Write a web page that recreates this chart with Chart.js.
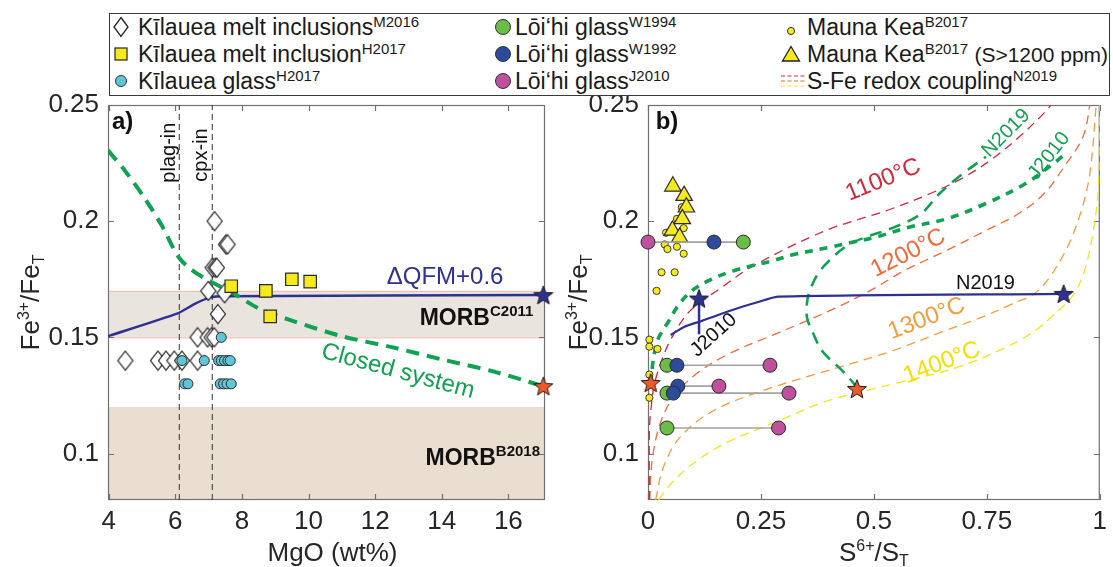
<!DOCTYPE html>
<html>
<head>
<meta charset="utf-8">
<title>Fe3+/FeT vs MgO and S6+/ST</title>
<script src="https://cdn.jsdelivr.net/npm/chart.js@4.4.1/dist/chart.umd.min.js"></script>
<style>
  html, body { margin:0; padding:0; background:#fff; }
  #wrap { position:relative; width:1113px; height:567px; overflow:hidden; font-family:"Liberation Sans", Arial, Helvetica, sans-serif; color:#1a1a1a; }
  canvas { position:absolute; top:0; }
  #ca { left:0; }
  #cb { left:556px; }
  #legend { position:absolute; left:109px; top:13px; width:1001px; height:83px; box-sizing:border-box; border:1.5px solid #3a3a3a; background:#fff; }
  .it { position:absolute; height:28px; line-height:28px; white-space:nowrap; font-size:23px; }
  .mk { position:absolute; }
  .sp { font-size:15px; position:relative; top:-8px; }
  .sm { font-size:21px; }
</style>
</head>
<body>
<div id="wrap">
  <canvas id="ca" width="556" height="567"></canvas>
  <canvas id="cb" width="557" height="567"></canvas>
  <div id="legend"></div>
</div>
<script>
const FONT = '"Liberation Sans", Arial, Helvetica, sans-serif';

// ---------------- tick labels ----------------
const aXTicks = [4, 6, 8, 10, 12, 14, 16];
const bXTicks = [0, 0.25, 0.5, 0.75, 1];
const yTicks  = [0.1, 0.15, 0.2, 0.25];

// ---------------- panel a : [MgO wt%, Fe3+/FeT] ----------------
const kilMeltIncM2016 = [
  [7.18,0.200],[7.52,0.190],[7.57,0.190],[7.12,0.180],[7.20,0.180],[7.25,0.180],
  [6.99,0.170],[7.48,0.169],[7.28,0.160],
  [6.67,0.150],[6.97,0.150],[7.09,0.150],[7.17,0.150],
  [4.50,0.140],[5.48,0.140],[5.72,0.140],[5.97,0.140],[6.20,0.140],[6.67,0.140]
];
const kilMeltIncH2017 = [[7.68,0.172],[8.72,0.170],[8.85,0.159],[9.50,0.175],[10.05,0.174]];
const kilGlassH2017 = [
  [7.38,0.150],
  [6.20,0.140],[6.87,0.140],[7.30,0.140],[7.38,0.140],[7.48,0.140],[7.58,0.140],[7.65,0.140],
  [6.28,0.130],[6.38,0.130],[7.35,0.130],[7.45,0.130],[7.55,0.130],[7.68,0.130]
];
const qfmLine = [[3.98,0.1505],[6.05,0.1602],[6.6,0.1645],[7.05,0.1672],[7.5,0.1677],[17.05,0.1682]];
const closedSystem = [[3.98,0.2305],[4.5,0.2215],[5.1,0.2095],[5.6,0.198],[6.1,0.1845],[6.5,0.179],
  [7.0,0.1745],[7.8,0.1685],[8.5,0.1625],[9.5,0.1572],[11,0.1505],[12.5,0.1458],[14,0.1405],[15.5,0.1355],[17.05,0.129]];
const mineralIn = [6.12, 7.11];          // plag-in, cpx-in (MgO)
const morbC2011 = [0.15, 0.17];
const morbB2018 = [0.08, 0.12];
const starAblue = [[17.05, 0.1682]];
const starAred  = [[17.05, 0.129]];

// ---------------- panel b : [S6+/ST, Fe3+/FeT] ----------------
const loihiRowsY = [0.191, 0.138, 0.129, 0.126, 0.111];
const loihiW1994 = [0.211, 0.042, null, 0.042, 0.042];
const loihiW1992 = [0.146, 0.064, 0.066, 0.056, null];
const loihiJ2010 = [0.000, 0.270, 0.157, 0.312, 0.289];
const maunaKea = [[0.075,0.206],[0.064,0.201],[0.079,0.197],[0.040,0.195],[0.037,0.190],[0.043,0.188],
  [0.064,0.189],[0.079,0.186],[0.030,0.178],[0.059,0.178],[0.019,0.170],[0.003,0.149],[0.003,0.146],
  [0.021,0.145],[0.003,0.134],[0.003,0.124]];
const maunaKeaHighS = [[0.055,0.215],[0.080,0.211],[0.085,0.206],[0.076,0.201],[0.054,0.196],[0.070,0.193]];
const t1100 = [[0.003,0.08],[0.003,0.1095],[0.006,0.118],[0.014,0.1297],[0.032,0.141],[0.053,0.150],[0.093,0.1614],
  [0.163,0.1715],[0.235,0.181],[0.394,0.196],[0.53,0.2047],[0.625,0.2119],[0.70,0.219],[0.76,0.2265],[0.82,0.236],[0.877,0.2466],[0.90,0.252]];
const t1200 = [[0.004,0.08],[0.006,0.09],[0.011,0.0995],[0.026,0.1124],[0.055,0.124],[0.105,0.134],[0.177,0.1427],
  [0.264,0.150],[0.35,0.157],[0.43,0.164],[0.50,0.171],[0.567,0.1787],[0.661,0.1874],[0.748,0.196],[0.82,0.2032],
  [0.877,0.2119],[0.921,0.2234],[0.963,0.2364],[0.98,0.252]];
const t1300 = [[0.017,0.08],[0.019,0.082],[0.033,0.0936],[0.069,0.1066],[0.141,0.118],[0.25,0.1268],[0.394,0.1355],
  [0.538,0.144],[0.646,0.152],[0.73,0.158],[0.805,0.1643],[0.863,0.170],[0.921,0.186],[0.957,0.2032],[0.978,0.2205],[0.993,0.252]];
const t1400 = [[0.024,0.08],[0.026,0.0807],[0.055,0.0879],[0.105,0.0965],[0.177,0.105],[0.286,0.1138],[0.394,0.1225],
  [0.538,0.1297],[0.683,0.137],[0.79,0.1455],[0.85,0.152],[0.90,0.160],[0.94,0.168],[0.965,0.178],[0.985,0.195],[0.997,0.215],[1.0,0.252]];
const j2010Path = [[0.006,0.130],[0.010,0.138],[0.015,0.144],[0.024,0.150],[0.046,0.157],[0.068,0.164],[0.097,0.170],
  [0.14,0.175],[0.19,0.1787],[0.234,0.181],[0.277,0.183],[0.32,0.1855],[0.408,0.189],[0.466,0.1915],[0.502,0.193],
  [0.58,0.1975],[0.661,0.201],[0.748,0.2076],[0.834,0.216],[0.899,0.225],[0.928,0.2297]];
const n2019Path = [[0.4625,0.128],[0.452,0.131],[0.423,0.137],[0.386,0.144],[0.365,0.152],[0.352,0.1585],[0.352,0.165],
  [0.358,0.170],[0.375,0.177],[0.394,0.1816],[0.437,0.189],[0.48,0.193],[0.54,0.197],[0.603,0.203],[0.646,0.212],
  [0.697,0.2205],[0.748,0.2277]];
const n2019Blue = [[0.05,0.151],[0.08,0.1545],[0.118,0.157],[0.19,0.162],[0.24,0.165],[0.29,0.1675],[0.92,0.1687]];
const j2010Blue = [[0.113,0.1513],[0.113,0.1667]];
const starBblue = [[0.113,0.1667],[0.92,0.1687]];
const starBred  = [[0.006,0.1304],[0.4625,0.1278]];

// ---------------- colours ----------------
const C = {
  navy:'#2e3192', green:'#10a152', red:'#f05a28',
  c1100:'#d2283c', c1200:'#f2693a', c1300:'#f89c3a', c1400:'#f7e41c',
  yellow:'#f5ea1c', cyan:'#5fc6d8', lgreen:'#6cbd45', lblue:'#2e4a9b', magenta:'#c0509e'
};

const xy = a => a.map(p => ({x:p[0], y:p[1]}));
const rowPts = arr => arr.map((v,i) => v == null ? null : {x:v, y:loihiRowsY[i]}).filter(Boolean);

function starImg(fill, r) {
  const s = Math.ceil(2*r + 4), c = document.createElement('canvas');
  c.width = s; c.height = s;
  const g = c.getContext('2d'), cx = s/2, cy = s/2 + r*0.08, ri = r*0.42;
  g.beginPath();
  for (let i = 0; i < 10; i++) {
    const rr = i % 2 ? ri : r, a = -Math.PI/2 + i*Math.PI/5;
    g.lineTo(cx + rr*Math.cos(a), cy + rr*Math.sin(a));
  }
  g.closePath(); g.fillStyle = fill; g.fill();
  g.strokeStyle = '#1a1a1a'; g.lineWidth = 1; g.stroke();
  return c;
}
function diamondImg() {
  const c = document.createElement('canvas'); c.width = 18; c.height = 22;
  const g = c.getContext('2d');
  g.beginPath(); g.moveTo(9,1.5); g.lineTo(16.5,11); g.lineTo(9,20.5); g.lineTo(1.5,11); g.closePath();
  g.fillStyle = '#fff'; g.fill(); g.strokeStyle = '#1a1a1a'; g.lineWidth = 1.2; g.stroke();
  return c;
}

function mk(data, o) {
  return Object.assign({data: xy(data), showLine:false, clip:false, borderColor:'#2a2a2a', borderWidth:1}, o);
}
function ln(data, color, width, dash, o) {
  return Object.assign({data: Array.isArray(data[0]) ? xy(data) : data, showLine:true, pointRadius:0, pointHoverRadius:0,
    borderColor:color, borderWidth:width, borderDash:dash || [], tension:0, fill:false}, o || {});
}

// rich text: parts [{t, s, b, dy}]
function drawRich(ctx, parts, x, y, align, color, angleDeg) {
  ctx.save();
  ctx.translate(x, y);
  ctx.rotate((angleDeg || 0) * Math.PI / 180);
  ctx.textAlign = 'left'; ctx.textBaseline = 'alphabetic';
  let w = 0;
  parts.forEach(p => { ctx.font = (p.b ? 'bold ' : '') + p.s + 'px ' + FONT; w += ctx.measureText(p.t).width; });
  let cx = align === 'center' ? -w/2 : (align === 'right' ? -w : 0);
  const base = parts[0].s * 0.36;
  parts.forEach(p => {
    ctx.font = (p.b ? 'bold ' : '') + p.s + 'px ' + FONT;
    ctx.fillStyle = p.c || color;
    ctx.fillText(p.t, cx, base + (p.dy || 0));
    cx += ctx.measureText(p.t).width;
  });
  ctx.restore();
}

function panelPlugin(cfg) {
  return {
    id: 'panel',
    beforeDatasetsDraw(chart) {
      const {ctx, chartArea: ca} = chart, xs = chart.scales.x, ys = chart.scales.y;
      ctx.save();
      (cfg.bands || []).forEach(b => {
        const yt = ys.getPixelForValue(b.range[1]), yb = ys.getPixelForValue(b.range[0]);
        ctx.fillStyle = b.fill;
        ctx.fillRect(ca.left, yt, ca.right - ca.left, yb - yt);
        ctx.strokeStyle = b.edge; ctx.lineWidth = 1;
        ctx.beginPath(); ctx.moveTo(ca.left, yt + 0.5); ctx.lineTo(ca.right, yt + 0.5);
        if (b.range[0] > ys.min) { ctx.moveTo(ca.left, yb + 0.5); ctx.lineTo(ca.right, yb + 0.5); }
        ctx.stroke();
      });
      ctx.strokeStyle = '#707070'; ctx.lineWidth = 1.2;
      ctx.strokeRect(ca.left + 0.5, ca.top + 0.5, ca.right - ca.left - 1, ca.bottom - ca.top - 1);
      const tl = 6;
      ctx.beginPath();
      xs.ticks.forEach(t => {
        const p = Math.round(xs.getPixelForValue(t.value)) + 0.5;
        ctx.moveTo(p, ca.bottom); ctx.lineTo(p, ca.bottom - tl);
        ctx.moveTo(p, ca.top); ctx.lineTo(p, ca.top + tl);
      });
      ys.ticks.forEach(t => {
        const p = Math.round(ys.getPixelForValue(t.value)) + 0.5;
        ctx.moveTo(ca.left, p); ctx.lineTo(ca.left + tl, p);
        ctx.moveTo(ca.right, p); ctx.lineTo(ca.right - tl, p);
      });
      ctx.stroke();
      ctx.restore();
    },
    afterDatasetsDraw(chart) {
      const {ctx, chartArea: ca} = chart, xs = chart.scales.x, ys = chart.scales.y;
      (cfg.notes || []).forEach(n => {
        drawRich(ctx, n.parts, xs.getPixelForValue(n.at[0]), ys.getPixelForValue(n.at[1]), n.align || 'center', n.color || '#111', n.rot || 0);
      });
      // axis titles
      drawRich(ctx, cfg.xTitle, (ca.left + ca.right)/2 + (cfg.xTitleDx || 0), 552, 'center', '#262626', 0);
      drawRich(ctx, cfg.yTitle, cfg.yTitleX, (ca.top + ca.bottom)/2, 'center', '#262626', -90);
    }
  };
}

const yTitleParts = [{t:'Fe', s:26}, {t:'3+', s:16, dy:-10}, {t:'/Fe', s:26}, {t:'T', s:16, dy:5}];

function baseOptions(xmin, xmax, xt, yw, padRight) {
  const tickFont = {family: FONT, size: 26};
  const fmt = v => String(+(+v).toFixed(2));
  return {
    responsive:false, animation:false, devicePixelRatio:1, events:[],
    layout:{padding:{top:105, right:padRight, left:0, bottom:0}},
    plugins:{legend:{display:false}, tooltip:{enabled:false}},
    scales:{
      x:{type:'linear', min:xmin, max:xmax,
         grid:{display:false, drawTicks:false}, border:{display:false},
         afterBuildTicks: s => { s.ticks = xt.map(v => ({value:v})); },
         afterFit: s => { s.height = 67; },
         ticks:{padding:6, color:'#262626', font:tickFont, autoSkip:false, maxRotation:0, callback: fmt}},
      y:{type:'linear', min:0.08, max:0.25,
         grid:{display:false, drawTicks:false}, border:{display:false},
         afterBuildTicks: s => { s.ticks = yTicks.map(v => ({value:v})); },
         afterFit: s => { s.width = yw; },
         ticks:{padding:9, color:'#262626', font:tickFont, autoSkip:false, callback: fmt}}
    }
  };
}

// ---------------- panel a ----------------
const diamond = diamondImg();
const chartA = new Chart(document.getElementById('ca'), {
  type:'scatter',
  data:{datasets:[
    mk(starAblue, {pointStyle: starImg(C.navy, 10), pointRadius:10}),
    mk(starAred,  {pointStyle: starImg(C.red, 10), pointRadius:10}),
    mk(kilMeltIncH2017, {pointStyle:'rect', pointRadius:8.8, backgroundColor:C.yellow, borderWidth:1.2}),
    mk(kilGlassH2017, {pointStyle:'circle', pointRadius:5, backgroundColor:C.cyan, borderWidth:1}),
    mk(kilMeltIncM2016, {pointStyle: diamond, pointRadius:9}),
    ln(closedSystem, C.green, 4, [13,8], {tension:0.3}),
    ln(qfmLine, C.navy, 2.5, [], {tension:0.2}),
    ln([{x:mineralIn[0], y:0.08},{x:mineralIn[0], y:0.25}], '#333', 1, [6,4]),
    ln([{x:mineralIn[1], y:0.08},{x:mineralIn[1], y:0.25}], '#333', 1, [6,4])
  ]},
  options: baseOptions(3.98, 17.1, aXTicks, 108, 7),
  plugins:[panelPlugin({
    bands:[{range:morbB2018, fill:'#eaded1', edge:'#d6e8d4'}, {range:morbC2011, fill:'#e9e5de', edge:'#f3b9a6'}],
    notes:[
      {parts:[{t:'a)', s:24, b:true}], at:[4.1, 0.2435], align:'left'},
      {parts:[{t:'plag-in', s:20}], at:[5.78, 0.2295], rot:-90},
      {parts:[{t:'cpx-in', s:20}], at:[6.74, 0.2285], rot:-90},
      {parts:[{t:'\u0394QFM+0.6', s:24}], at:[14.1, 0.1765], color:C.navy},
      {parts:[{t:'MORB', s:23, b:true}, {t:'C2011', s:15, b:true, dy:-9}], at:[16.75, 0.1588], align:'right'},
      {parts:[{t:'MORB', s:23, b:true}, {t:'B2018', s:15, b:true, dy:-9}], at:[16.95, 0.0985], align:'right'},
      {parts:[{t:'Closed system', s:24}], at:[12.7, 0.1362], color:C.green, rot:15}
    ],
    xTitle:[{t:'MgO (wt%)', s:26}], xTitleDx:6,
    yTitle:yTitleParts, yTitleX:30
  })]
});

// ---------------- panel b ----------------
const linkSets = loihiRowsY.map((y, i) => {
  const xsRow = [loihiW1994[i], loihiW1992[i], loihiJ2010[i]].filter(v => v != null);
  return ln([{x:Math.min(...xsRow), y}, {x:Math.max(...xsRow), y}], '#a3a3a3', 1.6, [], {clip:false});
});
const chartB = new Chart(document.getElementById('cb'), {
  type:'scatter',
  data:{datasets:[
    mk(starBblue, {pointStyle: starImg(C.navy, 10), pointRadius:10}),
    mk(starBred,  {pointStyle: starImg(C.red, 10), pointRadius:10}),
    {data: rowPts(loihiW1992), showLine:false, clip:false, pointStyle:'circle', pointRadius:7, backgroundColor:C.lblue, borderColor:'#2a2a2a', borderWidth:1},
    {data: rowPts(loihiW1994), showLine:false, clip:false, pointStyle:'circle', pointRadius:7, backgroundColor:C.lgreen, borderColor:'#2a2a2a', borderWidth:1},
    {data: rowPts(loihiJ2010), showLine:false, clip:false, pointStyle:'circle', pointRadius:7, backgroundColor:C.magenta, borderColor:'#2a2a2a', borderWidth:1},
    ...linkSets,
    mk(maunaKeaHighS, {pointStyle:'triangle', pointRadius:9.5, backgroundColor:C.yellow, borderWidth:1.2}),
    mk(maunaKea, {pointStyle:'circle', pointRadius:3.6, backgroundColor:C.yellow, borderWidth:0.9}),
    ln(j2010Blue, C.navy, 2.5),
    ln(n2019Blue, C.navy, 2.2, [], {tension:0.25}),
    ln(j2010Path, C.green, 3.6, [8,7], {tension:0.35}),
    ln(n2019Path, C.green, 2.6, [12,8], {tension:0.35}),
    ln(t1100, C.c1100, 1.3, [9,6], {tension:0.35}),
    ln(t1200, C.c1200, 1.3, [9,6], {tension:0.35}),
    ln(t1300, C.c1300, 1.3, [9,6], {tension:0.35}),
    ln(t1400, C.c1400, 1.3, [9,6], {tension:0.35})
  ]},
  options: baseOptions(0, 1, bXTicks, 92, 3),
  plugins:[panelPlugin({
    notes:[
      {parts:[{t:'b)', s:24, b:true}], at:[0.017, 0.2435], align:'left'},
      {parts:[{t:'1100\u00B0C', s:24}], at:[0.519, 0.2185], color:C.c1100, rot:-22},
      {parts:[{t:'1200\u00B0C', s:24}], at:[0.574, 0.187], color:C.c1200, rot:-27},
      {parts:[{t:'1300\u00B0C', s:24}], at:[0.615, 0.1588], color:C.c1300, rot:-21},
      {parts:[{t:'1400\u00B0C', s:24}], at:[0.649, 0.1398], color:'#f2e000', rot:-21},
      {parts:[{t:'N2019', s:20}], at:[0.79, 0.2384], color:C.green, rot:-45},
      {parts:[{t:'J2010', s:20}], at:[0.885, 0.2285], color:C.green, rot:-52},
      {parts:[{t:'N2019', s:20}], at:[0.747, 0.174], color:'#111'},
      {parts:[{t:'J2010', s:20}], at:[0.143, 0.1515], color:'#111', rot:-42}
    ],
    xTitle:[{t:'S', s:26}, {t:'6+', s:16, dy:-10}, {t:'/S', s:26}, {t:'T', s:16, dy:5}],
    yTitle:yTitleParts, yTitleX:22
  })]
});

// ---------------- legend (HTML) ----------------
const legendEntries = [
  {col:0, row:0, mark:'<svg width="18" height="22"><polygon points="9,1.5 16,11 9,20.5 2,11" fill="#fff" stroke="#222" stroke-width="1.3"/></svg>', w:18, h:22,
   html:'K\u012Blauea melt inclusions<span class="sp">M2016</span>'},
  {col:0, row:1, mark:'<svg width="16" height="16"><rect x="2" y="2" width="12" height="12" fill="'+C.yellow+'" stroke="#333" stroke-width="1.3"/></svg>', w:16, h:16,
   html:'K\u012Blauea melt inclusion<span class="sp">H2017</span>'},
  {col:0, row:2, mark:'<svg width="14" height="14"><circle cx="7" cy="7" r="5.5" fill="'+C.cyan+'" stroke="#333" stroke-width="1"/></svg>', w:14, h:14,
   html:'K\u012Blauea glass<span class="sp">H2017</span>'},
  {col:1, row:0, mark:'<svg width="18" height="18"><circle cx="9" cy="9" r="7.5" fill="'+C.lgreen+'" stroke="#333" stroke-width="1"/></svg>', w:18, h:18,
   html:'L\u014Di\u2018hi glass<span class="sp">W1994</span>'},
  {col:1, row:1, mark:'<svg width="18" height="18"><circle cx="9" cy="9" r="7.5" fill="'+C.lblue+'" stroke="#333" stroke-width="1"/></svg>', w:18, h:18,
   html:'L\u014Di\u2018hi glass<span class="sp">W1992</span>'},
  {col:1, row:2, mark:'<svg width="18" height="18"><circle cx="9" cy="9" r="7.5" fill="'+C.magenta+'" stroke="#333" stroke-width="1"/></svg>', w:18, h:18,
   html:'L\u014Di\u2018hi glass<span class="sp">J2010</span>'},
  {col:2, row:0, mark:'<svg width="10" height="10"><circle cx="5" cy="5" r="3.6" fill="'+C.yellow+'" stroke="#333" stroke-width="1"/></svg>', w:10, h:10,
   html:'Mauna Kea<span class="sp">B2017</span>'},
  {col:2, row:1, mark:'<svg width="20" height="18"><polygon points="10,1.5 18.5,16 1.5,16" fill="'+C.yellow+'" stroke="#222" stroke-width="1.3"/></svg>', w:20, h:18,
   html:'Mauna Kea<span class="sp">B2017</span> <span class="sm">(S&gt;1200 ppm)</span>'},
  {col:2, row:2, mark:'<svg width="24" height="16"><line x1="0" y1="3" x2="24" y2="3" stroke="'+C.c1100+'" stroke-width="1.2" stroke-dasharray="4,2.5"/><line x1="0" y1="8" x2="24" y2="8" stroke="'+C.c1200+'" stroke-width="1.2" stroke-dasharray="4,2.5"/><line x1="0" y1="13" x2="24" y2="13" stroke="'+C.c1400+'" stroke-width="1.2" stroke-dasharray="4,2.5"/></svg>', w:24, h:16,
   html:'S-Fe redox coupling<span class="sp">N2019</span>'}
];
const legCols = [{mx:11, tx:28}, {mx:393, tx:405}, {mx:681, tx:697}];
const legRows = [13, 40, 67];
const leg = document.getElementById('legend');
legendEntries.forEach(e => {
  const col = legCols[e.col], cy = legRows[e.row];
  const m = document.createElement('div');
  m.className = 'mk';
  m.style.left = (e.col === 2 && e.row === 2 ? col.mx - 10 : col.mx - e.w/2) + 'px';
  m.style.top = (cy - e.h/2) + 'px';
  m.style.width = e.w + 'px'; m.style.height = e.h + 'px';
  m.innerHTML = e.mark;
  leg.appendChild(m);
  const t = document.createElement('div');
  t.className = 'it';
  t.style.left = col.tx + 'px';
  t.style.top = (cy - 14) + 'px';
  t.innerHTML = e.html;
  leg.appendChild(t);
});
</script>
</body>
</html>
